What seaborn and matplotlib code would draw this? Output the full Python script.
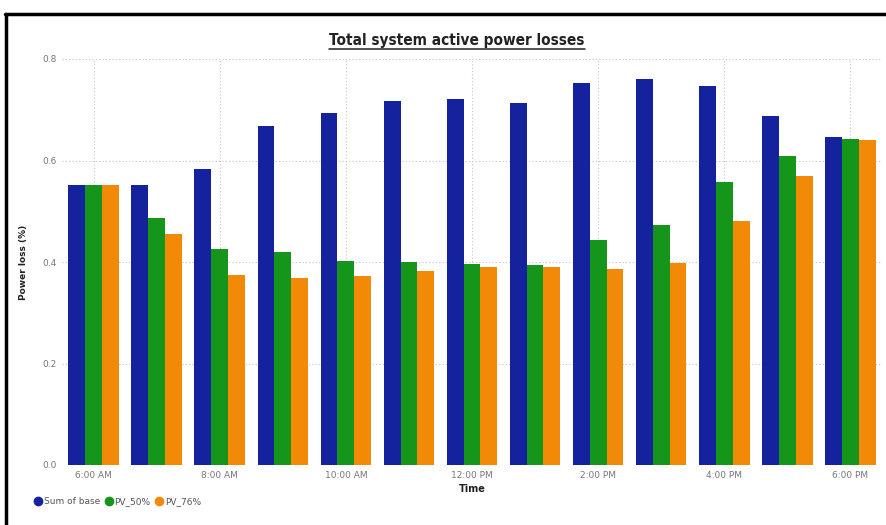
import matplotlib
matplotlib.use("Agg")
import matplotlib.pyplot as plt
from matplotlib.lines import Line2D
import seaborn as sns
import pandas as pd

times = ["6:00 AM", "7:00 AM", "8:00 AM", "9:00 AM", "10:00 AM", "11:00 AM", "12:00 PM",
         "1:00 PM", "2:00 PM", "3:00 PM", "4:00 PM", "5:00 PM", "6:00 PM"]
base = [0.552, 0.552, 0.583, 0.668, 0.694, 0.717, 0.721, 0.713, 0.753, 0.760, 0.747, 0.688, 0.646]
pv50 = [0.552, 0.487, 0.426, 0.420, 0.402, 0.400, 0.396, 0.394, 0.443, 0.473, 0.558, 0.609, 0.642]
pv76 = [0.552, 0.455, 0.374, 0.368, 0.372, 0.382, 0.390, 0.390, 0.386, 0.398, 0.481, 0.569, 0.640]
series_names = ["Sum of base", "PV_50%", "PV_76%"]
tick_labels = ["6:00 AM", "8:00 AM", "10:00 AM", "12:00 PM", "2:00 PM", "4:00 PM", "6:00 PM"]
y_ticks = [0.0, 0.2, 0.4, 0.6, 0.8]

colors = ["#15229D", "#15961A", "#F38A07"]

df = pd.DataFrame({
    "Time": times * 3,
    "Loss": base + pv50 + pv76,
    "Series": [series_names[0]] * len(times) + [series_names[1]] * len(times) + [series_names[2]] * len(times),
})

sns.set_theme(style="white")
plt.rcParams["font.family"] = ["DejaVu Sans"]

fig = plt.figure(figsize=(8.86, 5.25), dpi=100)
ax = fig.add_axes([62 / 886, 60 / 525, 820 / 886, 406 / 525])

sns.barplot(data=df, x="Time", y="Loss", hue="Series", order=times,
            hue_order=series_names, palette=colors, width=0.8, gap=0,
            saturation=1, ax=ax, legend=False, linewidth=0, edgecolor="none")

ax.set_xlim(-0.5, len(times) - 0.5)
ax.set_ylim(0, 0.8)
ax.set_xticks([times.index(t) for t in tick_labels])
ax.set_xticklabels(tick_labels, fontsize=6.5, color="#777777")
ax.set_yticks(y_ticks)
ax.set_yticklabels([f"{v:.1f}" for v in y_ticks], fontsize=6.5, color="#777777")
ax.tick_params(length=0, pad=4)
for s in ax.spines.values():
    s.set_visible(False)
ax.set_axisbelow(True)
ax.grid(True, axis="both", linestyle=(0, (1, 2)), color="#C4C4C4", linewidth=0.8)

ax.set_xlabel("Time", fontsize=7, fontweight="bold", color="#222222", labelpad=3)
ax.set_ylabel("Power loss (%)", fontsize=6.5, fontweight="bold", color="#222222", labelpad=10)

title = fig.text(457 / 886, 1 - 40 / 525, "Total system active power losses",
                 ha="center", va="center", fontsize=11, fontweight="bold",
                 fontstretch="condensed", color="#222222", family=["DejaVu Sans"])
fig.canvas.draw()
bb = title.get_window_extent()
fig.add_artist(Line2D([bb.x0 / 886, bb.x1 / 886], [(bb.y0 - 1) / 525] * 2,
                      color="#222222", linewidth=1.1, transform=fig.transFigure))

# frame
fig.add_artist(Line2D([5 / 886, 1], [1 - 14 / 525] * 2, color="black", linewidth=2.5,
                      transform=fig.transFigure))
fig.add_artist(Line2D([6 / 886] * 2, [0, 1 - 14 / 525], color="black", linewidth=2.5,
                      transform=fig.transFigure))

handles = [Line2D([], [], marker="o", linestyle="none", markersize=6,
                  markerfacecolor=c, markeredgecolor=c) for c in colors]
fig.legend(handles, series_names, loc="center left", bbox_to_anchor=(30 / 886, 1 - 502 / 525),
           ncol=3, frameon=False, fontsize=6.5, handletextpad=0.1, columnspacing=0.5,
           handlelength=1.0, labelcolor="#555555", borderaxespad=0)

fig.savefig("out.png", dpi=100)
